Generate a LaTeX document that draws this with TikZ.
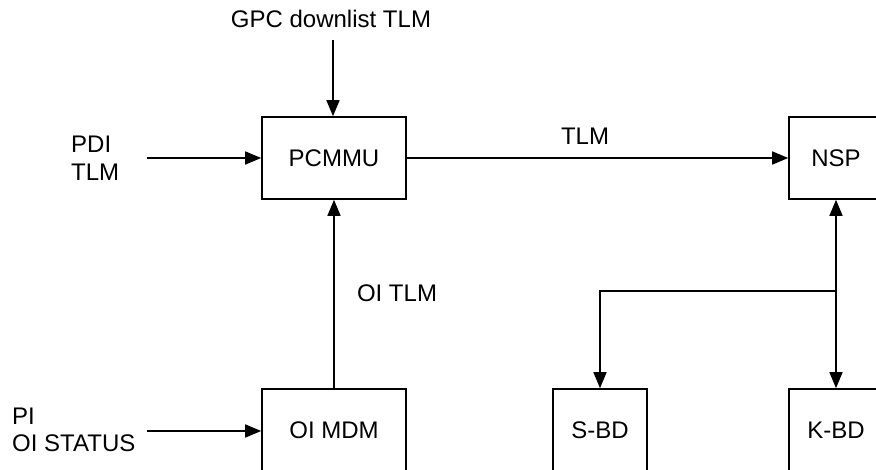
\documentclass[tikz,border=0pt]{standalone}
\usepackage{fontspec}
\setmainfont{Liberation Sans}
\usetikzlibrary{arrows.meta}
\begin{document}
\begin{tikzpicture}[x=1pt,y=-1pt,
  box/.style={draw,line width=1.6pt,minimum height=82pt,inner sep=0pt,font=\fontsize{24}{27.5}\selectfont},
  lbl/.style={inner sep=0pt,font=\fontsize{24}{27.5}\selectfont},
  conn/.style={line width=1.6pt,-{Triangle[length=16pt,width=13pt]}},
  both/.style={line width=1.6pt,{Triangle[length=16pt,width=13pt]}-{Triangle[length=16pt,width=13pt]}}]
\useasboundingbox (0,0) rectangle (876,470);
\fill[white] (0,0) rectangle (876,470);
\clip (0,0) rectangle (876,470);
\node[box,minimum width=144pt] (pcmmu) at (334,158) {PCMMU};
\node[box,minimum width=94pt] (nsp) at (836,158) {NSP};
\node[box,minimum width=144pt] (oimdm) at (334,430) {OI MDM};
\node[box,minimum width=94pt] (sbd) at (600,430) {S-BD};
\node[box,minimum width=94pt] (kbd) at (836,430) {K-BD};
\node[lbl,anchor=base] (gpc) at (331,28) {GPC downlist TLM};
\coordinate (gpcend) at (333,40);
\node[lbl,anchor=west,align=left] (pdi) at (71,158) {PDI\\TLM};
\coordinate (pdiend) at (147,158);
\node[lbl,anchor=west,align=left] (pi) at (12,430) {PI\\OI STATUS};
\coordinate (piend) at (147,431);
\node[lbl] (tlm) at (585,136) {TLM};
\node[lbl] (oitlm) at (397,293) {OI TLM};
\coordinate (br) at (836,291);
\draw[conn] (gpcend) -- (pcmmu.north -| gpcend);
\draw[conn] (pdiend) -- (pcmmu.west |- pdiend);
\draw[conn] (piend) -- (oimdm.west |- piend);
\draw[conn] (pcmmu.east) -- (nsp.west);
\draw[conn] (oimdm.north) -- (pcmmu.south);
\draw[both] (nsp.south) -- (kbd.north);
\draw[conn] (br) -| (sbd.north);
\end{tikzpicture}
\end{document}
